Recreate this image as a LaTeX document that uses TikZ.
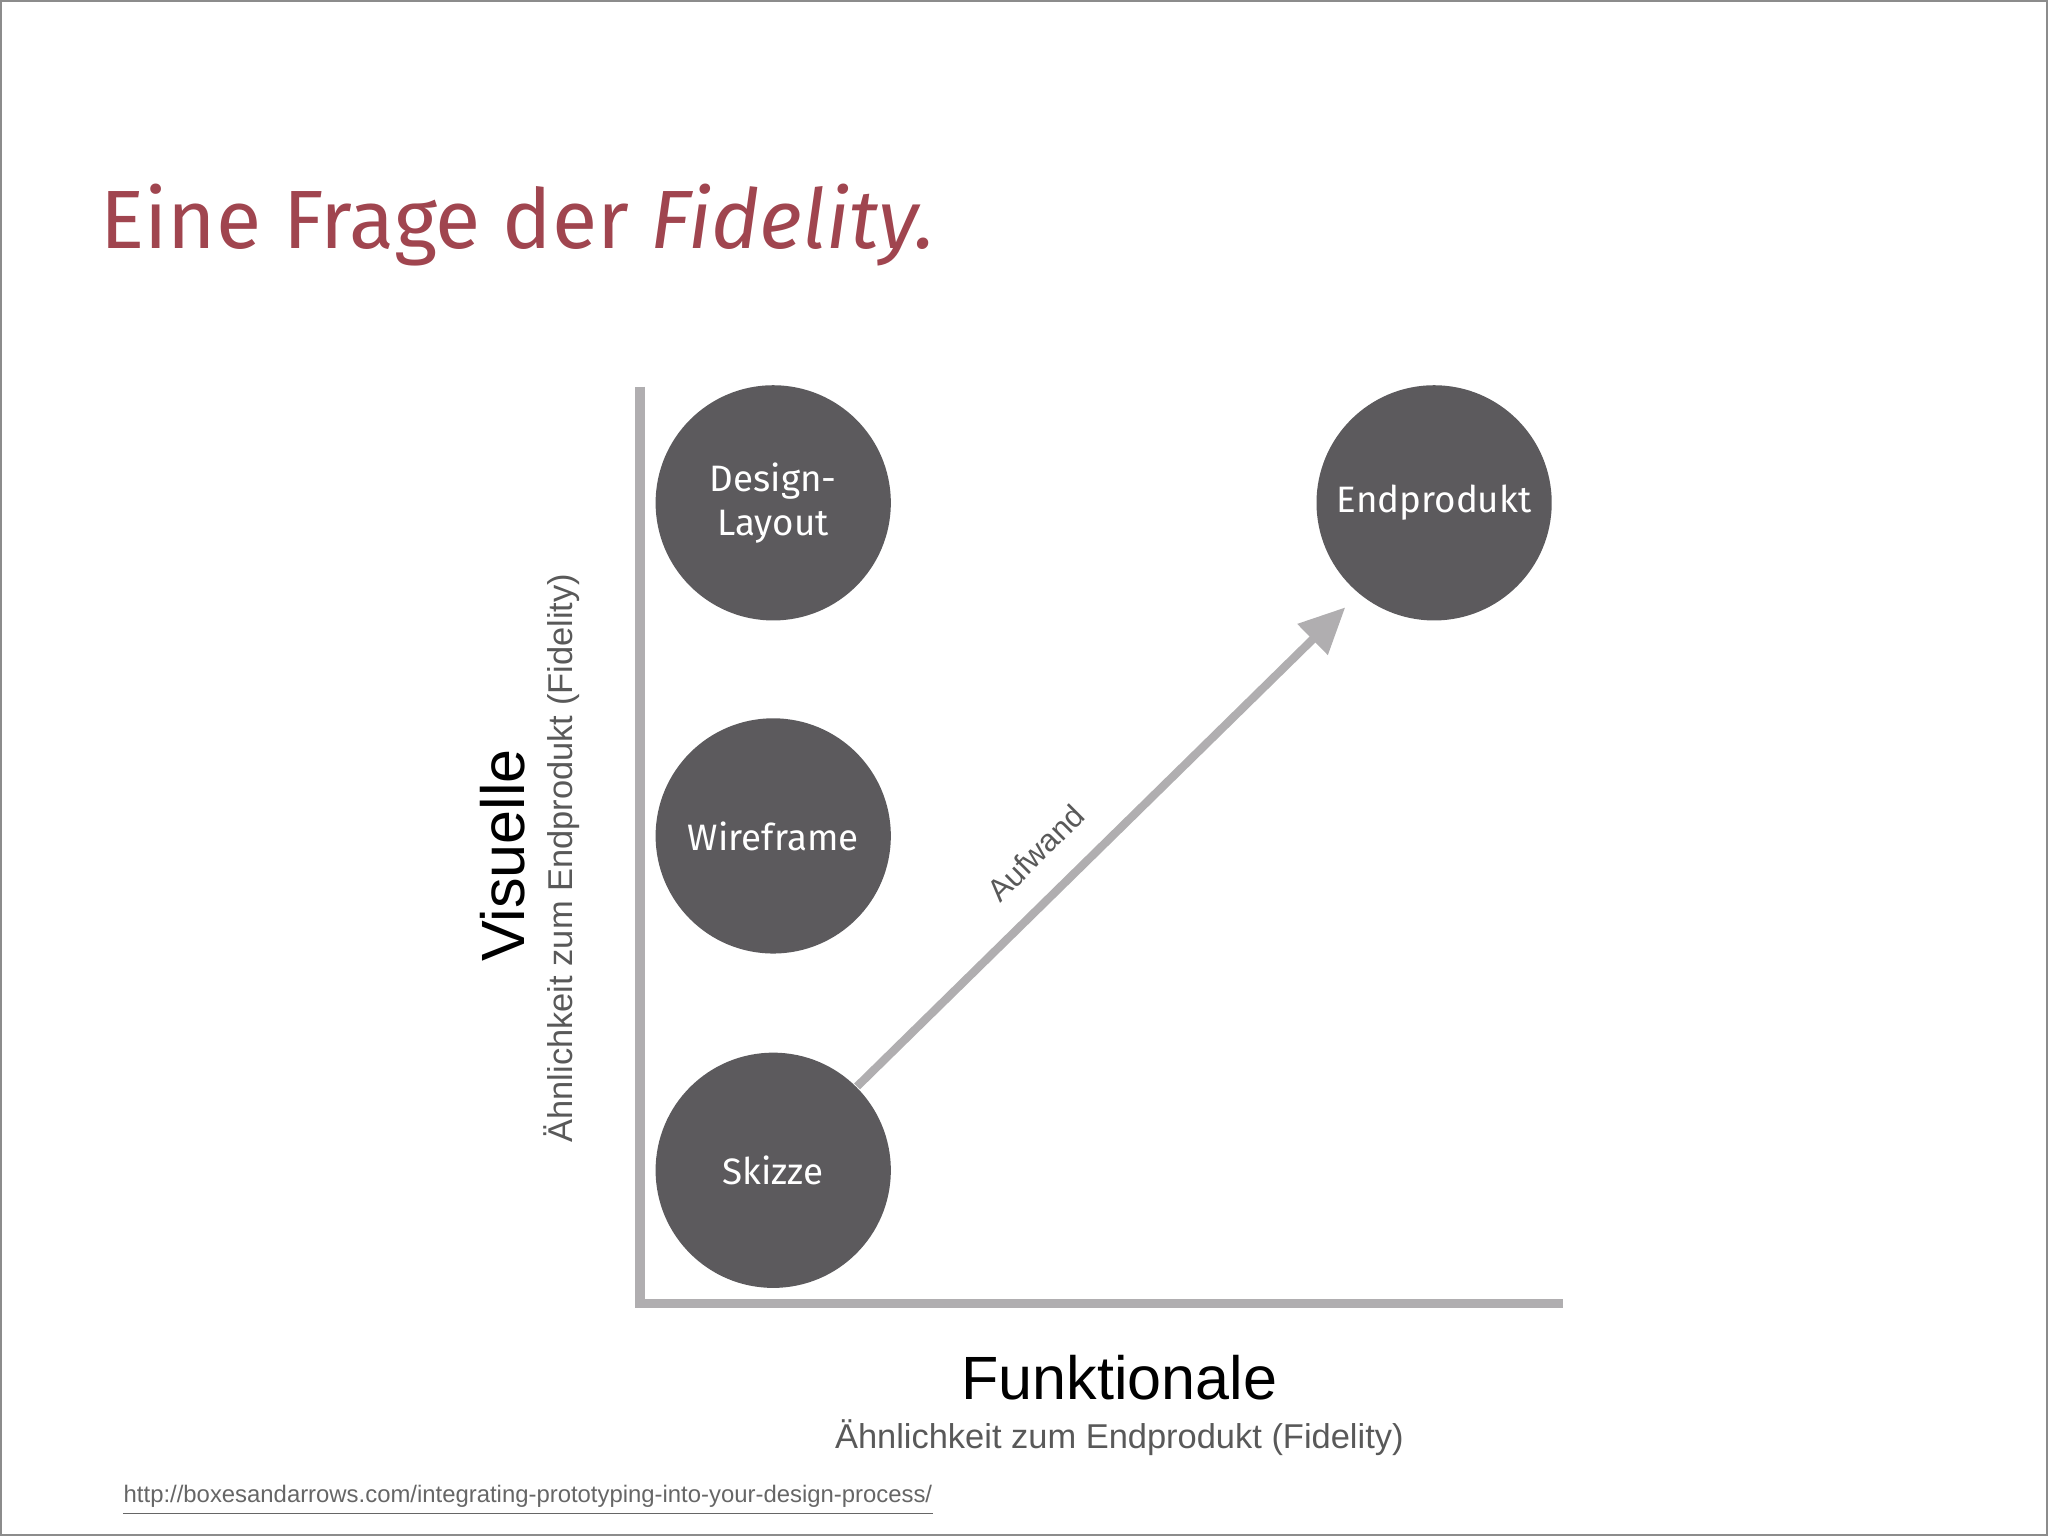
\documentclass[tikz,border=0pt]{standalone}
\usepackage{fontspec}
\setmainfont{Liberation Sans}
\newfontfamily\ubu{Fira Sans}
\usetikzlibrary{arrows.meta}
\definecolor{titlered}{HTML}{A0454F}
\definecolor{circ}{HTML}{5C5A5D}
\definecolor{axis}{HTML}{B0AEB0}
\tikzset{x=0.01cm,y=-0.01cm,
 blob/.style={circle,fill=circ,minimum size=1.8cm,inner sep=0,text=white,font=\ubu\fontsize{8pt}{9.5pt}\selectfont,align=center},
 ax/.style={line width=2pt,draw=axis},
 big/.style={font=\fontsize{13.3pt}{16pt}\selectfont},
 sub/.style={font=\fontsize{7.5pt}{9pt}\selectfont,text=black!65}}
\begin{document}
\begin{tikzpicture}
\useasboundingbox (0,0) rectangle (1568,1176);
\draw[black!45,line width=0.4pt] (1,1) rectangle (1567,1175);
\node[anchor=base west,inner sep=0,text=titlered,font=\ubu\fontsize{18pt}{22pt}\selectfont] (title) at (76,190) {Eine Frage der \textit{Fidelity.}};
\coordinate (o) at (490,998);
\coordinate (top) at (490,296);
\coordinate (right) at (1197,998);
\draw[ax] (top) -- (o) -- (right);
\node[blob] (des) at (592,385) {Design-\\Layout};
\node[blob] (wir) at (592,640) {Wireframe};
\node[blob] (ski) at (592,896) {Skizze};
\node[blob] (end) at (1098,385) {Endprodukt};
\coordinate (tip) at (1030,465);
\draw[draw=axis,line width=1.8pt,-{Triangle[length=10pt,width=9pt]}] (ski.45) -- (tip);
\node[rotate=45,sub,font=\fontsize{6.8pt}{8pt}\selectfont] (auf) at (793,653) {Aufwand};
\node[rotate=90,big] (vis) at (385,655) {Visuelle};
\node[rotate=90,sub] (vsub) at (430,657) {Ähnlichkeit zum Endprodukt (Fidelity)};
\node[big] (fun) at (857,1055) {Funktionale};
\node[sub] (fsub) at (857,1101) {Ähnlichkeit zum Endprodukt (Fidelity)};
\node[anchor=west,inner sep=0,text=black!60,font=\fontsize{5.2pt}{6pt}\selectfont] (url) at (94,1146) {http://boxesandarrows.com/integrating-prototyping-into-your-design-process/};
\draw[black!60,line width=0.3pt] ([yshift=-1pt]url.south west) -- ([yshift=-1pt]url.south east);
\end{tikzpicture}
\end{document}
